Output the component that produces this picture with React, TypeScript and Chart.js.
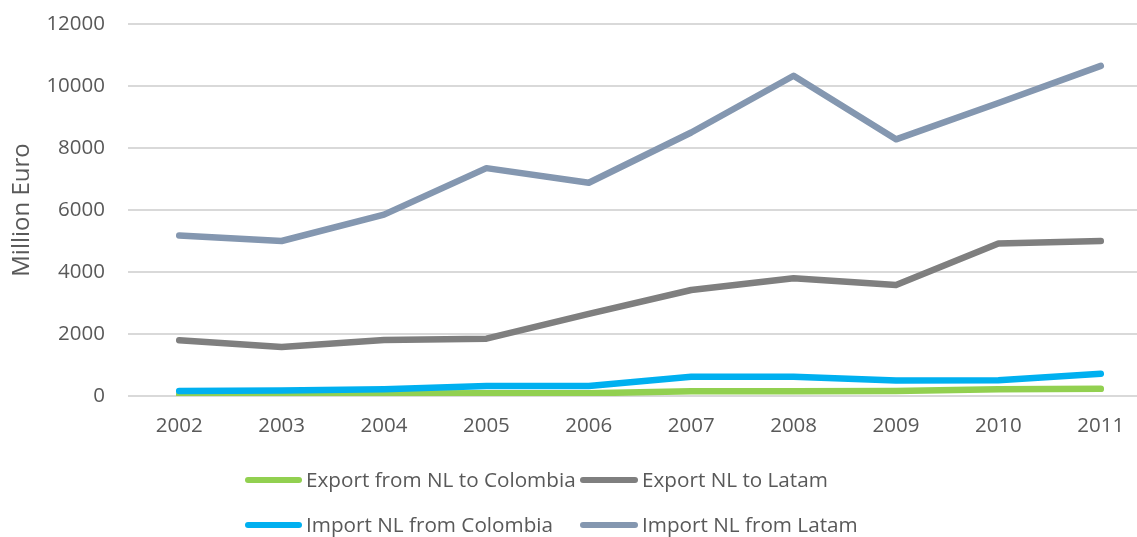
import React, { useEffect, useRef } from "react";
import { Chart, registerables } from "chart.js";

Chart.register(...registerables);

const years = ["2002", "2003", "2004", "2005", "2006", "2007", "2008", "2009", "2010", "2011"];
const exportNLColombia = [50, 60, 80, 90, 90, 150, 150, 160, 220, 230];
const exportNLLatam = [1800, 1580, 1810, 1850, 2650, 3420, 3800, 3580, 4920, 5000];
const importNLColombia = [160, 180, 220, 320, 320, 620, 620, 500, 510, 720];
const importNLLatam = [5180, 5000, 5850, 7350, 6880, 8500, 10330, 8280, 9450, 10650];
const seriesNames = [
  "Export from NL to Colombia",
  "Export NL to Latam",
  "Import NL from Colombia",
  "Import NL from Latam",
];
const seriesColors = ["#92d050", "#7f7f7f", "#00b0f0", "#8497b0"];
const yTitle = "Million Euro";

const TEXT = "#595959";
const FONT = "'Open Sans', sans-serif";

const legendPlugin = {
  id: "gridLegend",
  afterDraw(chart: any) {
    const ctx = chart.ctx;
    const cols = [
      { lineStart: 245, lineEnd: 302, textX: 306 },
      { lineStart: 580, lineEnd: 638, textX: 642 },
    ];
    const rows = [480, 525];
    ctx.save();
    ctx.font = `20.7px ${FONT}`;
    ctx.textBaseline = "middle";
    ctx.textAlign = "left";
    chart.data.datasets.forEach((ds: any, i: number) => {
      const c = cols[i % 2];
      const y = rows[Math.floor(i / 2)];
      ctx.strokeStyle = ds.borderColor;
      ctx.lineWidth = 6;
      ctx.lineCap = "round";
      ctx.beginPath();
      ctx.moveTo(c.lineStart + 3, y);
      ctx.lineTo(c.lineEnd - 3, y);
      ctx.stroke();
      ctx.fillStyle = TEXT;
      ctx.fillText(ds.label, c.textX, y + 1);
    });
    ctx.restore();
  },
};

export default function App() {
  const canvasRef = useRef<HTMLCanvasElement | null>(null);

  useEffect(() => {
    if (!canvasRef.current) return;
    const data = [exportNLColombia, exportNLLatam, importNLColombia, importNLLatam];
    const chart = new Chart(canvasRef.current, {
      type: "line",
      data: {
        labels: years,
        datasets: data.map((d, i) => ({
          label: seriesNames[i],
          data: d,
          borderColor: seriesColors[i],
          backgroundColor: seriesColors[i],
          borderWidth: 6.5,
          borderCapStyle: "round",
          borderJoinStyle: "round",
          pointRadius: 0,
          pointHoverRadius: 0,
          tension: 0,
          fill: false,
          order: 4 - i,
        })),
      },
      options: {
        responsive: false,
        animation: false,
        devicePixelRatio: 1,
        layout: { padding: { top: 24, right: 8, bottom: 0, left: 0 } },
        plugins: {
          legend: { display: false },
          tooltip: { enabled: false },
        },
        scales: {
          x: {
            offset: true,
            grid: { display: false, drawTicks: false },
            border: { display: false },
            ticks: { color: TEXT, font: { family: FONT, size: 20.5 }, padding: 18 },
            afterFit(scale: any) {
              scale.height = 141;
              scale.paddingLeft = 0;
              scale.paddingRight = 0;
              scale.paddingTop = 0;
              scale.paddingBottom = 0;
            },
          },
          y: {
            min: 0,
            max: 12000,
            ticks: {
              stepSize: 2000,
              color: TEXT,
              font: { family: FONT, size: 20.5 },
              padding: 23,
              callback: (v: any) => String(v),
            },
            grid: { color: "#d9d9d9", lineWidth: 2, drawTicks: false },
            border: { display: false },
            title: {
              display: true,
              text: yTitle,
              color: TEXT,
              font: { family: FONT, size: 24 },
              padding: { top: 8, bottom: 0 },
            },
            afterFit(scale: any) {
              scale.width = 128;
              scale.paddingLeft = 0;
              scale.paddingRight = 0;
              scale.paddingTop = 0;
              scale.paddingBottom = 0;
            },
          },
        },
      } as any,
      plugins: [legendPlugin],
    });
    return () => chart.destroy();
  }, []);

  return (
    <div
      style={{
        position: "absolute",
        left: 0,
        top: 0,
        width: 1137,
        height: 537,
        overflow: "hidden",
        background: "#ffffff",
      }}
    >
      <canvas ref={canvasRef} width={1160} height={537} style={{ display: "block" }} />
    </div>
  );
}
